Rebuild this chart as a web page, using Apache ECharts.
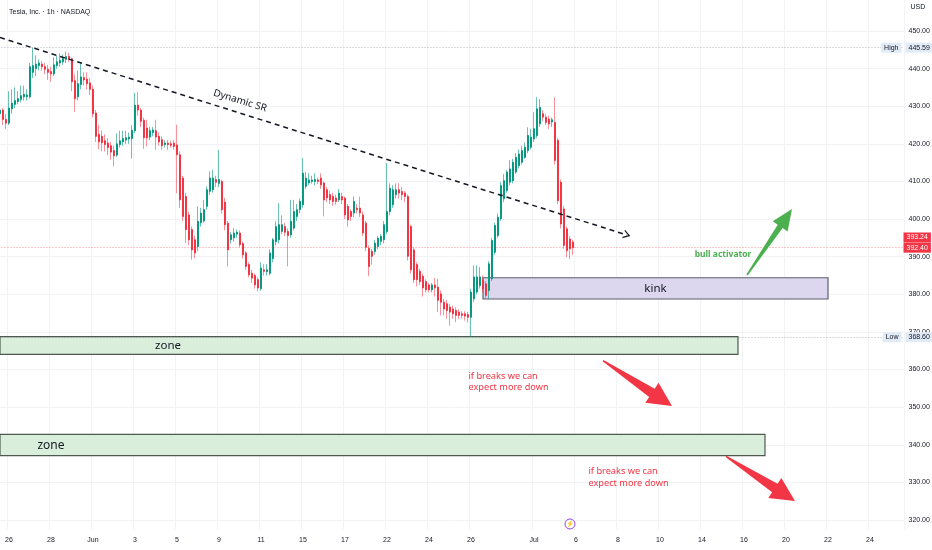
<!DOCTYPE html>
<html>
<head>
<meta charset="utf-8">
<title>Tesla 1h</title>
<script src="https://cdn.jsdelivr.net/npm/echarts@6/dist/echarts.min.js"></script>
<style>
  html, body { margin: 0; padding: 0; background: #fff; }
  #chart { width: 932px; height: 550px; }
</style>
</head>
<body>
<div id="chart"></div>
<script>
// trading days on the time scale (first day only shows its last 3 bars)
var days = ['05-22', '05-26', '05-27', '05-28', '05-29',
  '06-01', '06-02', '06-03', '06-04', '06-05',
  '06-08', '06-09', '06-10', '06-11', '06-12',
  '06-15', '06-16', '06-17', '06-18',
  '06-22', '06-23', '06-24', '06-25', '06-26',
  '06-29', '06-30', '07-01', '07-02',
  '07-06', '07-07', '07-08', '07-09', '07-10',
  '07-13', '07-14', '07-15', '07-16', '07-17',
  '07-20', '07-21', '07-22', '07-23', '07-24', '07-27'];
var hours = ['09:30', '10:30', '11:30', '12:30', '13:30', '14:30', '15:30'];

// time scale labels
var tickDays = ['05-26', '05-28', '06-01', '06-03', '06-05', '06-09', '06-11', '06-15', '06-17', '06-22', '06-24',
  '06-26', '07-01', '07-06', '07-08', '07-10', '07-14', '07-16', '07-20', '07-22', '07-24'];
var tickText = ['26', '28', 'Jun', '3', '5', '9', '11', '15', '17', '22', '24',
  '26', 'Jul', '6', '8', '10', '14', '16', '20', '22', '24'];

// price scale labels
var priceTicks = [320, 330, 340, 350, 360, 370, 380, 390, 400, 410, 420, 430, 440, 450];

// hourly candles
var opens = [
  428.0, 429.0, 426.5, 425.5, 429.3, 430.5, 431.2, 431.8, 432.5, 432.5,
  432.5, 439.0, 440.0, 440.8, 441.2, 440.5, 439.8, 439.2, 438.6, 440.8,
  441.5, 441.8, 442.4, 443.2, 442.6, 436.8, 432.5, 435.8, 437.6, 437.2,
  436.2, 434.5, 428.2, 422.5, 422.0, 420.8, 420.2, 419.5, 418.2, 417.0,
  419.8, 420.5, 421.0, 421.3, 421.4, 423.5, 430.3, 429.0, 426.3, 424.2,
  421.8, 423.0, 423.5, 422.0, 421.1, 419.8, 420.2, 420.0, 420.2, 419.7,
  417.1, 410.9, 406.0, 401.1, 397.2, 394.5, 392.7, 399.0, 399.5, 403.4,
  407.4, 407.8, 410.5, 409.5, 410.0, 404.5, 398.9, 394.5, 395.0, 396.0,
  396.3, 393.5, 391.0, 387.9, 385.6, 385.0, 383.9, 381.5, 386.5, 386.0,
  385.6, 389.5, 394.0, 394.5, 396.7, 398.0, 396.7, 395.8, 397.6, 400.7,
  402.5, 403.8, 408.7, 409.6, 410.0, 410.0, 410.4, 410.9, 409.6, 407.8,
  406.5, 406.0, 405.6, 405.1, 406.0, 405.6, 403.4, 402.0, 401.6, 402.9,
  402.9, 401.1, 398.9, 392.2, 391.4, 391.4, 392.7, 394.1, 394.5, 396.7,
  402.0, 403.8, 406.5, 407.8, 407.3, 406.9, 406.0, 398.0, 391.8, 387.9,
  386.1, 384.8, 383.4, 382.5, 381.2, 382.5, 381.9, 380.1, 377.9, 377.5,
  376.6, 376.1, 375.7, 375.3, 374.8, 374.8, 374.6, 373.9, 378.8, 380.6,
  382.3, 383.7, 382.8, 381.0, 384.1, 391.2, 395.6, 400.1, 405.4, 407.6,
  409.8, 410.2, 412.5, 414.2, 415.1, 416.4, 418.2, 419.1, 421.3, 422.2,
  425.3, 428.0, 427.1, 426.6, 425.8, 425.7, 420.9, 409.8, 402.7, 397.4,
  394.7, 393.9];
var closes = [
  429.0, 426.5, 425.5, 429.5, 430.8, 431.5, 432.0, 432.8, 433.2, 433.0,
  440.5, 440.8, 441.2, 441.5, 440.5, 439.8, 439.0, 438.6, 441.0, 441.8,
  442.2, 442.6, 443.2, 442.6, 436.5, 432.0, 436.0, 437.8, 437.0, 436.0,
  434.5, 428.0, 422.0, 420.5, 420.3, 419.8, 419.0, 417.8, 416.8, 420.0,
  420.8, 421.4, 421.6, 421.8, 423.6, 430.3, 429.0, 426.0, 421.6, 421.6,
  423.5, 423.7, 421.8, 420.5, 419.5, 420.2, 419.8, 419.6, 419.3, 417.1,
  405.1, 400.7, 397.2, 394.5, 391.8, 391.0, 399.4, 401.6, 402.5, 407.8,
  410.9, 410.9, 409.8, 410.5, 402.5, 398.5, 391.8, 395.8, 396.3, 396.5,
  393.2, 390.5, 387.4, 385.2, 384.3, 382.5, 381.7, 387.0, 386.1, 386.5,
  391.0, 394.5, 398.0, 398.5, 398.5, 396.5, 395.6, 399.4, 402.0, 402.5,
  404.7, 412.2, 410.9, 410.4, 410.4, 410.5, 410.0, 409.1, 405.1, 405.6,
  405.1, 404.7, 404.7, 406.9, 405.1, 401.1, 399.8, 400.7, 404.7, 402.5,
  401.6, 396.3, 392.5, 387.4, 390.1, 393.6, 394.9, 395.4, 398.5, 402.0,
  408.2, 407.8, 407.8, 406.9, 406.5, 406.0, 390.1, 386.5, 383.9, 383.9,
  383.4, 381.7, 381.2, 381.2, 382.5, 381.7, 378.4, 377.9, 376.1, 375.7,
  375.3, 374.8, 374.4, 374.4, 374.4, 374.2, 373.9, 380.6, 384.6, 384.6,
  384.6, 381.5, 379.7, 388.1, 394.3, 398.3, 400.5, 408.9, 410.2, 412.5,
  413.3, 415.1, 416.4, 417.3, 418.2, 419.1, 422.2, 421.8, 424.0, 429.3,
  429.7, 427.1, 425.7, 425.3, 426.4, 415.6, 404.9, 398.7, 393.0, 391.6,
  392.1, 392.4];
var lows = [
  427.0, 425.0, 424.0, 425.0, 428.0, 429.5, 430.5, 431.0, 431.5, 431.5,
  432.0, 437.5, 438.0, 439.5, 439.5, 438.5, 437.0, 436.5, 438.0, 440.0,
  440.5, 441.0, 441.5, 441.8, 434.0, 428.5, 431.5, 434.5, 435.5, 434.5,
  433.0, 427.0, 420.5, 418.5, 418.0, 418.0, 417.0, 415.8, 414.0, 416.5,
  419.0, 419.5, 420.0, 420.0, 416.1, 422.8, 427.5, 424.5, 418.7, 419.3,
  421.0, 422.0, 418.4, 419.5, 418.4, 419.0, 418.4, 419.0, 418.5, 406.9,
  402.9, 399.5, 393.6, 393.0, 389.2, 389.6, 391.5, 398.0, 399.0, 402.5,
  406.5, 407.0, 408.5, 408.5, 401.5, 397.0, 387.4, 393.5, 394.0, 395.0,
  392.5, 389.5, 386.5, 384.5, 383.0, 381.5, 380.8, 381.0, 385.0, 385.0,
  385.0, 388.5, 393.0, 393.5, 396.0, 395.5, 387.4, 395.0, 397.0, 399.5,
  401.5, 403.0, 408.0, 409.0, 409.4, 409.0, 409.3, 408.0, 400.7, 404.5,
  404.0, 403.5, 403.8, 404.5, 404.0, 400.0, 398.0, 399.5, 400.5, 401.5,
  400.5, 395.5, 391.5, 384.8, 387.9, 390.5, 392.0, 393.0, 393.5, 396.0,
  401.0, 403.0, 405.5, 405.5, 405.0, 404.5, 389.0, 385.5, 383.0, 382.1,
  382.5, 379.4, 380.5, 380.5, 380.5, 379.4, 375.3, 374.4, 374.4, 373.5,
  371.7, 373.5, 372.6, 373.5, 373.5, 373.0, 372.5, 368.6, 378.0, 380.0,
  381.5, 380.5, 378.8, 378.8, 383.5, 390.5, 395.0, 399.5, 404.5, 407.0,
  409.0, 409.5, 412.0, 413.5, 414.5, 416.0, 417.5, 418.5, 420.5, 421.5,
  424.5, 426.0, 425.0, 424.0, 424.5, 414.5, 404.0, 397.5, 392.1, 389.9,
  389.4, 390.5];
var highs = [
  430.5, 429.5, 428.0, 434.0, 434.5, 435.0, 434.0, 435.5, 435.5, 434.5,
  441.5, 445.59, 443.5, 442.5, 442.0, 441.5, 441.0, 440.5, 443.0, 443.5,
  444.0, 443.8, 444.5, 444.2, 443.0, 438.5, 439.5, 441.5, 439.0, 439.0,
  437.5, 435.5, 429.0, 425.0, 423.5, 422.5, 421.5, 420.5, 419.5, 422.8,
  423.5, 423.5, 423.5, 423.0, 425.0, 433.5, 433.8, 429.5, 427.0, 426.4,
  424.5, 424.5, 426.4, 423.0, 422.0, 421.0, 421.1, 420.8, 421.0, 425.1,
  418.0, 411.5, 407.0, 402.0, 398.0, 395.5, 403.4, 403.0, 405.1, 408.7,
  412.7, 413.1, 411.5, 418.4, 410.5, 405.6, 399.5, 396.5, 397.6, 397.2,
  397.0, 394.0, 391.5, 388.5, 386.5, 385.5, 384.5, 388.5, 388.0, 388.0,
  392.0, 395.0, 399.4, 404.2, 401.0, 399.0, 397.5, 405.1, 405.1, 404.0,
  405.5, 416.2, 412.5, 412.2, 411.5, 412.2, 411.0, 412.2, 410.0, 408.5,
  407.5, 407.0, 406.5, 408.0, 407.0, 406.0, 404.0, 402.5, 406.0, 404.0,
  406.0, 402.0, 399.5, 393.0, 392.0, 394.5, 395.5, 396.0, 399.5, 414.9,
  409.5, 409.0, 409.5, 409.5, 408.5, 407.5, 406.5, 398.5, 392.5, 388.5,
  386.8, 385.5, 384.0, 383.0, 383.0, 384.3, 384.1, 381.0, 378.8, 378.5,
  377.5, 377.0, 376.5, 376.0, 375.5, 375.5, 375.3, 381.5, 387.7, 387.7,
  387.2, 385.0, 383.5, 388.8, 395.0, 399.0, 401.5, 409.8, 412.0, 413.0,
  415.6, 416.0, 417.5, 418.5, 419.5, 420.4, 424.4, 424.0, 428.4, 432.4,
  431.9, 429.0, 428.0, 427.5, 427.0, 432.4, 421.5, 410.5, 403.5, 398.0,
  395.5, 394.5];

// levels shown on the price scale
var lastPrice = 392.40;
var prevPrice = 393.24;
var highPrice = 445.59;
var lowPrice = 368.60;

// drawings (category index, price)
var trendLine = [[0, 448.27], [209, 395.77]];
var kinkBox = [[161, 384.4], [276, 378.75]];
var zoneUpper = [[0, 368.73], [246, 364.05]];
var zoneLower = [[0, 342.78], [255, 337.1]];
var greenArrow = [[249.3, 385.13, 264, 402.68]];
var redArrows = [[200.8, 362.35, 223.7, 350.3], [241.7, 336.9, 265, 325.05]];

var categories = [];
days.forEach(function (d, k) {
  var start = k === 0 ? 4 : 0;
  for (var h = start; h < hours.length; h++) {
    categories.push(d + ' ' + hours[h]);
  }
});
categories = categories.slice(0, 302);

var wickData = opens.map(function (o, i) { return [o, closes[i], lows[i], highs[i]]; });
var bodyData = opens.map(function (o, i) {
  return [o, closes[i], Math.min(o, closes[i]), Math.max(o, closes[i])];
});

function isTick(index, value) {
  var p = value.split(' ');
  return p[1] === '09:30' && tickDays.indexOf(p[0]) >= 0;
}

var UP = '#089981', DOWN = '#f23645';
var axisFont = 'Liberation Sans, Arial, sans-serif';
var noteFont = 'Noto Sans, sans-serif';
var lastIdx = categories.length - 1;

function textPoint(coord, label) {
  return { coord: coord, label: Object.assign({ show: true, fontFamily: noteFont }, label) };
}

// filled arrow: thin tail, widening shaft, wide head
function arrowRenderer(headLen, headW, shaftW) {
  return function (params, api) {
    var p0 = api.coord([api.value(0), api.value(1)]);
    var p1 = api.coord([api.value(2), api.value(3)]);
    var dx = p1[0] - p0[0], dy = p1[1] - p0[1];
    var len = Math.sqrt(dx * dx + dy * dy);
    var ux = dx / len, uy = dy / len, nx = -uy, ny = ux;
    var bx = p1[0] - ux * headLen, by = p1[1] - uy * headLen;
    var pts = [
      [p0[0] + nx * 0.8, p0[1] + ny * 0.8],
      [bx + nx * shaftW / 2, by + ny * shaftW / 2],
      [bx + nx * headW / 2, by + ny * headW / 2],
      [p1[0], p1[1]],
      [bx - nx * headW / 2, by - ny * headW / 2],
      [bx - nx * shaftW / 2, by - ny * shaftW / 2],
      [p0[0] - nx * 0.8, p0[1] - ny * 0.8]
    ];
    return { type: 'polygon', shape: { points: pts }, style: { fill: api.visual('color') } };
  };
}

var badge = function (text, bg, fg) {
  return { show: true, formatter: text, backgroundColor: bg, color: fg, fontSize: 7,
    fontFamily: axisFont, padding: [2, 3, 1, 3] };
};

var option = {
  animation: false,
  backgroundColor: '#ffffff',
  title: {
    text: 'Tesla, Inc. · 1h · NASDAQ', left: 4, top: 4,
    textStyle: { fontSize: 7, fontWeight: 'normal', color: '#131722', fontFamily: axisFont }
  },
  grid: { left: -1.5, right: 27.5, top: 0, bottom: 20, containLabel: false, outerBoundsMode: 'none' },
  xAxis: {
    type: 'category',
    data: categories,
    boundaryGap: true,
    axisLine: { show: false },
    axisTick: { show: false },
    axisLabel: {
      interval: isTick,
      formatter: function (v) { return tickText[tickDays.indexOf(v.split(' ')[0])]; },
      fontSize: 7, color: '#131722', fontFamily: axisFont, margin: 7
    },
    splitLine: { show: true, interval: isTick, lineStyle: { color: '#f2f3f5', width: 1 } }
  },
  yAxis: {
    type: 'value',
    position: 'right',
    min: 317.34,
    max: 458.24,
    name: 'USD',
    nameLocation: 'end',
    nameGap: -11,
    nameTextStyle: { fontSize: 7, color: '#131722', fontFamily: axisFont, align: 'left', padding: [0, 0, 0, 6] },
    axisLine: { show: false },
    axisTick: { show: false, customValues: priceTicks },
    axisLabel: {
      customValues: priceTicks,
      formatter: function (v) { return v.toFixed(2); },
      fontSize: 7, color: '#131722', fontFamily: axisFont, margin: 4
    },
    splitLine: { show: true, lineStyle: { color: '#f0f2f5', width: 1 } }
  },
  series: [
    {
      name: 'wicks',
      type: 'candlestick',
      data: wickData,
      barWidth: 1,
      silent: true,
      itemStyle: {
        color: 'rgba(8,153,129,0.6)', color0: 'rgba(242,54,69,0.55)',
        borderColor: 'rgba(8,153,129,0.6)', borderColor0: 'rgba(242,54,69,0.55)', borderWidth: 1
      }
    },
    {
      name: 'TSLA',
      type: 'candlestick',
      data: bodyData,
      barWidth: 1.9,
      silent: true,
      clip: false,
      itemStyle: { color: UP, color0: DOWN, borderColor: UP, borderColor0: DOWN, borderWidth: 1 },
      markArea: {
        silent: true,
        data: [
          [{ xAxis: kinkBox[0][0], yAxis: kinkBox[0][1],
             itemStyle: { color: '#dcd7ef', borderColor: '#5b5f6b', borderWidth: 1.2 },
             label: { show: true, position: 'inside', formatter: 'kink', fontSize: 11.5, color: '#131722', fontFamily: noteFont } },
           { xAxis: kinkBox[1][0], yAxis: kinkBox[1][1] }],
          [{ xAxis: zoneUpper[0][0], yAxis: zoneUpper[0][1],
             itemStyle: { color: '#d9eedb', borderColor: '#4e5a4f', borderWidth: 1.2 }, label: { show: false } },
           { xAxis: zoneUpper[1][0], yAxis: zoneUpper[1][1] }],
          [{ xAxis: zoneLower[0][0], yAxis: zoneLower[0][1],
             itemStyle: { color: '#d9eedb', borderColor: '#4e5a4f', borderWidth: 1.2 }, label: { show: false } },
           { xAxis: zoneLower[1][0], yAxis: zoneLower[1][1] }]
        ]
      },
      markLine: {
        silent: true,
        symbol: ['none', 'none'],
        label: { show: false },
        data: [
          { yAxis: lastPrice, lineStyle: { color: 'rgba(242,54,69,0.55)', type: [1, 2], width: 1 } },
          { yAxis: highPrice, lineStyle: { color: 'rgba(120,123,134,0.55)', type: [1, 2], width: 1 } },
          { yAxis: lowPrice, lineStyle: { color: 'rgba(120,123,134,0.55)', type: [1, 2], width: 1 } },
          [{ coord: trendLine[0], symbol: 'none',
             lineStyle: { color: '#131722', type: [5, 4], width: 1.5 } },
           { coord: trendLine[1], symbol: 'path://M0,10 L5,0 L10,10 L8.4,10 L5,3.2 L1.6,10 Z', symbolSize: [9, 7] }]
        ]
      },
      markPoint: {
        silent: true,
        symbol: 'circle',
        symbolSize: 1,
        itemStyle: { color: 'rgba(0,0,0,0)' },
        data: [
          textPoint([80, 431.45], { formatter: 'Dynamic SR', rotate: -17, fontSize: 10, color: '#131722', position: 'inside' }),
          textPoint([56, 366.4], { formatter: 'zone', fontSize: 11.5, color: '#131722', position: 'inside' }),
          textPoint([17, 339.9], { formatter: 'zone', fontSize: 12, color: '#131722', position: 'inside' }),
          textPoint([241, 390.45], { formatter: 'bull activator', fontSize: 8.5, fontWeight: 'bold', color: '#4caf50', position: 'inside' }),
          textPoint([156, 356.77], { formatter: 'if breaks we can\nexpect more down', fontSize: 9.2, lineHeight: 11.5,
            color: '#f23645', position: 'right', distance: 0 }),
          textPoint([196, 331.3], { formatter: 'if breaks we can\nexpect more down', fontSize: 9.2, lineHeight: 11.5,
            color: '#f23645', position: 'right', distance: 0 }),
          { coord: [lastIdx, highPrice], label: Object.assign(badge('High', '#e1ebf7', '#131722'), { position: 'left', distance: 1 }) },
          { coord: [lastIdx, highPrice], label: Object.assign(badge(highPrice.toFixed(2), '#e1ebf7', '#131722'), { position: 'right', distance: 2 }) },
          { coord: [lastIdx, lowPrice], label: Object.assign(badge('Low', '#e1ebf7', '#131722'), { position: 'left', distance: 1 }) },
          { coord: [lastIdx, lowPrice], label: Object.assign(badge(lowPrice.toFixed(2), '#e1ebf7', '#131722'), { position: 'right', distance: 2 }) },
          { coord: [lastIdx, prevPrice], label: Object.assign(badge(prevPrice.toFixed(2), DOWN, '#ffffff'), { position: 'right', distance: 0, offset: [0, -7] }) },
          { coord: [lastIdx, lastPrice], label: Object.assign(badge(lastPrice.toFixed(2), DOWN, '#ffffff'), { position: 'right', distance: 0 }) },
          { coord: [190, 318.94], symbol: 'circle', symbolSize: 10,
            itemStyle: { color: '#ffffff', borderColor: '#8e44ec', borderWidth: 1 },
            label: { show: true, formatter: '\u26A1', position: 'inside', fontSize: 6.5, color: '#8e44ec' } }
        ]
      }
    },
    {
      name: 'bull arrow',
      type: 'custom',
      silent: true,
      clip: false,
      itemStyle: { color: '#4caf50' },
      renderItem: arrowRenderer(21, 18, 6),
      data: greenArrow,
      z: 5
    },
    {
      name: 'bear arrows',
      type: 'custom',
      silent: true,
      clip: false,
      itemStyle: { color: '#f23645' },
      renderItem: arrowRenderer(24, 24, 10),
      data: redArrows,
      z: 5
    }
  ]
};

var chart = echarts.init(document.getElementById('chart'));
chart.setOption(option);
</script>
</body>
</html>
